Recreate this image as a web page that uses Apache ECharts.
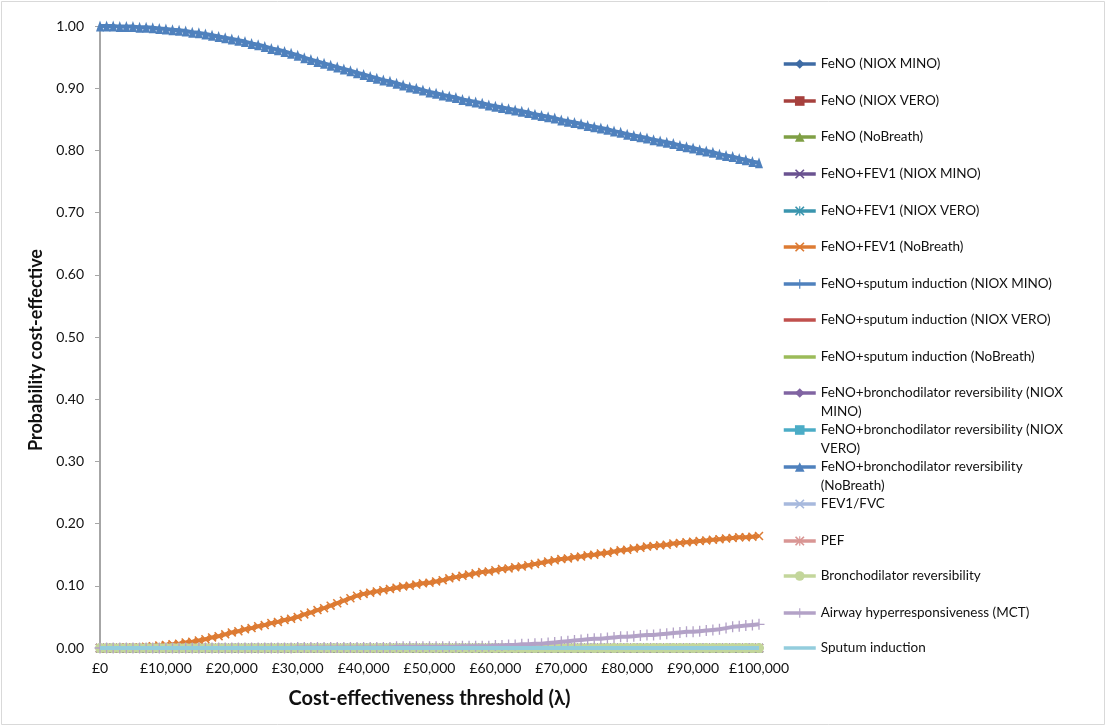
<!DOCTYPE html>
<html>
<head>
<meta charset="utf-8">
<script src="https://cdn.jsdelivr.net/npm/echarts@6/dist/echarts.min.js"></script>
<style>
  html, body { margin: 0; padding: 0; background: #ffffff; }
  #chart { width: 1107px; height: 727px; }
</style>
</head>
<body>
<div id="chart"></div>
<script>
// Willingness-to-pay thresholds (£), every £1,000 from £0 to £100,000
const thresholds = [];
for (let t = 0; t <= 100000; t += 1000) thresholds.push(t);

// Probability cost-effective for strategies that never come out on top
const zeroRow = [
  0, 0, 0, 0, 0, 0, 0, 0, 0, 0,
  0, 0, 0, 0, 0, 0, 0, 0, 0, 0,
  0, 0, 0, 0, 0, 0, 0, 0, 0, 0,
  0, 0, 0, 0, 0, 0, 0, 0, 0, 0,
  0, 0, 0, 0, 0, 0, 0, 0, 0, 0,
  0, 0, 0, 0, 0, 0, 0, 0, 0, 0,
  0, 0, 0, 0, 0, 0, 0, 0, 0, 0,
  0, 0, 0, 0, 0, 0, 0, 0, 0, 0,
  0, 0, 0, 0, 0, 0, 0, 0, 0, 0,
  0, 0, 0, 0, 0, 0, 0, 0, 0, 0,
  0
];

// FeNO+bronchodilator reversibility (NoBreath)
const bdrNoBreath = [
  1.000, 1.000, 1.000, 0.999, 0.999, 0.999, 0.998, 0.998, 0.997, 0.996,
  0.995, 0.994, 0.993, 0.992, 0.990, 0.989, 0.987, 0.985, 0.983, 0.981,
  0.979, 0.977, 0.975, 0.972, 0.970, 0.967, 0.964, 0.962, 0.959, 0.956,
  0.953, 0.949, 0.946, 0.943, 0.940, 0.937, 0.934, 0.931, 0.928, 0.925,
  0.922, 0.919, 0.916, 0.913, 0.911, 0.908, 0.905, 0.902, 0.900, 0.897,
  0.894, 0.892, 0.889, 0.887, 0.885, 0.882, 0.880, 0.878, 0.876, 0.873,
  0.871, 0.869, 0.867, 0.865, 0.863, 0.861, 0.858, 0.856, 0.854, 0.852,
  0.849, 0.847, 0.845, 0.843, 0.840, 0.838, 0.836, 0.834, 0.831, 0.829,
  0.826, 0.824, 0.822, 0.820, 0.817, 0.815, 0.813, 0.811, 0.808, 0.806,
  0.804, 0.801, 0.799, 0.797, 0.794, 0.792, 0.790, 0.787, 0.785, 0.782,
  0.780
];

// FeNO+FEV1 (NoBreath)
const fev1NoBreath = [
  0.000, 0.000, 0.000, 0.000, 0.001, 0.001, 0.001, 0.002, 0.003, 0.004,
  0.005, 0.006, 0.007, 0.009, 0.010, 0.012, 0.014, 0.017, 0.019, 0.022,
  0.025, 0.027, 0.030, 0.032, 0.035, 0.037, 0.040, 0.042, 0.045, 0.047,
  0.050, 0.054, 0.057, 0.061, 0.064, 0.068, 0.072, 0.076, 0.080, 0.084,
  0.087, 0.089, 0.091, 0.093, 0.095, 0.097, 0.099, 0.100, 0.102, 0.104,
  0.105, 0.107, 0.109, 0.112, 0.114, 0.116, 0.118, 0.120, 0.122, 0.123,
  0.125, 0.127, 0.128, 0.130, 0.131, 0.133, 0.135, 0.137, 0.139, 0.141,
  0.143, 0.144, 0.146, 0.147, 0.149, 0.150, 0.152, 0.153, 0.155, 0.157,
  0.158, 0.160, 0.161, 0.163, 0.164, 0.165, 0.166, 0.168, 0.169, 0.170,
  0.171, 0.172, 0.173, 0.174, 0.175, 0.176, 0.177, 0.178, 0.178, 0.179,
  0.180
];

// Airway hyperresponsiveness (MCT)
const ahrMct = [
  0.000, 0.000, 0.000, 0.000, 0.000, 0.000, 0.000, 0.000, 0.000, 0.000,
  0.000, 0.000, 0.000, 0.000, 0.000, 0.000, 0.000, 0.000, 0.000, 0.000,
  0.000, 0.000, 0.000, 0.000, 0.000, 0.000, 0.000, 0.000, 0.000, 0.000,
  0.001, 0.001, 0.001, 0.001, 0.001, 0.001, 0.001, 0.001, 0.001, 0.001,
  0.001, 0.001, 0.001, 0.001, 0.001, 0.002, 0.002, 0.002, 0.002, 0.002,
  0.002, 0.002, 0.002, 0.002, 0.002, 0.003, 0.003, 0.003, 0.003, 0.003,
  0.004, 0.004, 0.005, 0.005, 0.006, 0.006, 0.007, 0.007, 0.008, 0.009,
  0.010, 0.011, 0.012, 0.013, 0.014, 0.015, 0.015, 0.016, 0.017, 0.018,
  0.018, 0.019, 0.020, 0.021, 0.021, 0.022, 0.023, 0.024, 0.025, 0.026,
  0.026, 0.027, 0.028, 0.029, 0.030, 0.032, 0.034, 0.035, 0.036, 0.037,
  0.038
];

const seriesNames = [
  'FeNO (NIOX MINO)',
  'FeNO (NIOX VERO)',
  'FeNO (NoBreath)',
  'FeNO+FEV1 (NIOX MINO)',
  'FeNO+FEV1 (NIOX VERO)',
  'FeNO+FEV1 (NoBreath)',
  'FeNO+sputum induction (NIOX MINO)',
  'FeNO+sputum induction (NIOX VERO)',
  'FeNO+sputum induction (NoBreath)',
  'FeNO+bronchodilator reversibility (NIOX MINO)',
  'FeNO+bronchodilator reversibility (NIOX VERO)',
  'FeNO+bronchodilator reversibility (NoBreath)',
  'FEV1/FVC',
  'PEF',
  'Bronchodilator reversibility',
  'Airway hyperresponsiveness (MCT)',
  'Sputum induction'
];

const seriesValues = [
  zeroRow, zeroRow, zeroRow, zeroRow, zeroRow, fev1NoBreath,
  zeroRow, zeroRow, zeroRow, zeroRow, zeroRow, bdrNoBreath,
  zeroRow, zeroRow, zeroRow, ahrMct, zeroRow
];

// Legend wrapping for the long labels (the leading blank line keeps the
// marker level with the first line of text)
const legendWrap = {
  'FeNO+bronchodilator reversibility (NIOX MINO)': '\nFeNO+bronchodilator reversibility (NIOX\nMINO)',
  'FeNO+bronchodilator reversibility (NIOX VERO)': '\nFeNO+bronchodilator reversibility (NIOX\nVERO)',
  'FeNO+bronchodilator reversibility (NoBreath)': '\nFeNO+bronchodilator reversibility\n(NoBreath)'
};

// ---- styling ----
const X_MARK = 'path://M0,1.2L1.2,0L5,3.8L8.8,0L10,1.2L6.2,5L10,8.8L8.8,10L5,6.2L1.2,10L0,8.8L3.8,5Z';
const PLUS_MARK = 'path://M4.4,0H5.6V4.4H10V5.6H5.6V10H4.4V5.6H0V4.4H4.4Z';
const STAR_MARK = 'path://M0,1.2L1.2,0L5,3.8L8.8,0L10,1.2L6.2,5L10,8.8L8.8,10L5,6.2L1.2,10L0,8.8L3.8,5Z M4.4,0H5.6V10H4.4Z';

const seriesStyles = [
  { color: '#3E6BA4', symbol: 'diamond', size: 9 },
  { color: '#A6403D', symbol: 'rect', size: 8 },
  { color: '#7F9F45', symbol: 'triangle', size: 9 },
  { color: '#6A5290', symbol: X_MARK, size: 9 },
  { color: '#3A95AE', symbol: STAR_MARK, size: 9 },
  { color: '#DD7B33', symbol: X_MARK, size: 9 },
  { color: '#4F81BD', symbol: PLUS_MARK, size: 10 },
  { color: '#C0504D', symbol: 'none', size: 0 },
  { color: '#9BBB59', symbol: 'none', size: 0 },
  { color: '#8064A2', symbol: 'diamond', size: 9 },
  { color: '#4BACC6', symbol: 'rect', size: 8 },
  { color: '#4F81BD', symbol: 'triangle', size: [8, 11] },
  { color: '#A7B9DD', symbol: X_MARK, size: 9 },
  { color: '#D99694', symbol: STAR_MARK, size: 9 },
  { color: '#C3D69B', symbol: 'circle', size: 10 },
  { color: '#B3A2C7', symbol: PLUS_MARK, size: 11 },
  { color: '#93CDDD', symbol: 'none', size: 0 }
];

// vertical centre of each legend entry's marker
const legendRowCentres = [64, 101, 137, 174, 211, 247, 284, 320, 357, 393, 430, 467, 504, 541, 576, 613, 648];

const FONT = 'Lato, "Open Sans", sans-serif';
const TEXT = '#111111';

// each series stacks above the previous one, markers included
const series = seriesNames.map((name, i) => ({
  name: name,
  type: 'line',
  z: 2 + i,
  data: thresholds.map((t, j) => [t, seriesValues[i][j]]),
  symbol: seriesStyles[i].symbol,
  symbolSize: seriesStyles[i].size,
  showSymbol: seriesStyles[i].symbol !== 'none',
  showAllSymbol: true,
  lineStyle: { width: 4, color: seriesStyles[i].color },
  itemStyle: { color: seriesStyles[i].color },
  emphasis: { disabled: true },
  animation: false
}));

const legends = seriesNames.map((name, i) => {
  const twoLine = !!legendWrap[name];
  const noMarker = seriesStyles[i].symbol === 'none';
  return {
    data: [name],
    orient: 'vertical',
    left: 782,
    top: legendRowCentres[i] - (twoLine ? 28.5 : 9.5),
    padding: 0,
    itemWidth: 32,
    itemHeight: 12,
    selectedMode: false,
    itemStyle: noMarker ? { opacity: 0 } : {},
    lineStyle: { width: 3.5 },
    formatter: (n) => legendWrap[n] || n,
    textStyle: {
      fontFamily: FONT,
      fontSize: 13.5,
      color: TEXT,
      lineHeight: 19
    }
  };
});

const chart = echarts.init(document.getElementById('chart'), null, { renderer: 'canvas' });
chart.setOption({
  backgroundColor: '#ffffff',
  animation: false,
  grid: { left: 100, right: 348, top: 26, bottom: 79, containLabel: false },
  legend: legends,
  xAxis: {
    type: 'value',
    min: 0,
    max: 100000,
    interval: 10000,
    name: 'Cost-effectiveness threshold (λ)',
    nameLocation: 'middle',
    nameGap: 41,
    nameTextStyle: { fontFamily: FONT, fontSize: 20, fontWeight: 'bold', color: TEXT },
    axisLine: { show: true, lineStyle: { color: '#A6A6A6', width: 1 } },
    axisTick: { show: false },
    splitLine: { show: false },
    axisLabel: {
      margin: 13,
      fontFamily: FONT,
      fontSize: 14,
      color: TEXT,
      formatter: (v) => '£' + v.toLocaleString('en-GB')
    }
  },
  yAxis: {
    type: 'value',
    min: 0,
    max: 1,
    interval: 0.1,
    name: 'Probability cost-effective',
    nameLocation: 'middle',
    nameGap: 42,
    nameTextStyle: {
      fontFamily: FONT, fontSize: 18, fontWeight: 'bold', color: TEXT,
      padding: [0, 26, 0, 0]
    },
    axisLine: { show: true, lineStyle: { color: '#A6A6A6', width: 2 } },
    axisTick: { show: true, inside: false, length: 5, lineStyle: { color: '#A6A6A6' } },
    splitLine: { show: false },
    axisLabel: {
      margin: 16,
      fontFamily: FONT,
      fontSize: 14,
      color: TEXT,
      formatter: (v) => v.toFixed(2)
    }
  },
  graphic: [{
    type: 'rect',
    silent: true,
    shape: { x: 1.5, y: 1.5, width: 1103, height: 723 },
    style: { fill: 'none', stroke: '#D9D9D9', lineWidth: 1 },
    z: -1
  }],
  series: series
});
</script>
</body>
</html>
